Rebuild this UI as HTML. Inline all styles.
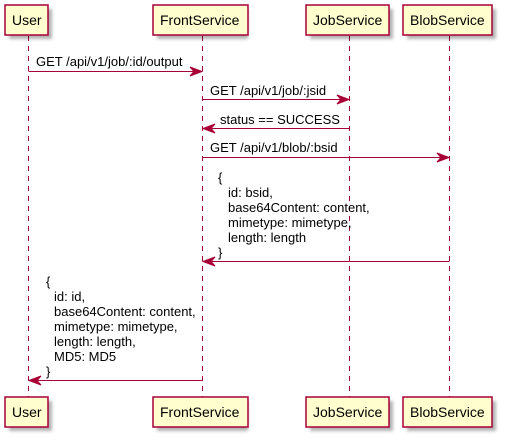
<!DOCTYPE html>
<html><head><meta charset="utf-8"><style>
html,body{margin:0;padding:0;background:#fff;}
svg{display:block;}
text{font-family:"Liberation Sans",sans-serif;fill:#000;}
</style></head><body>
<svg width="505" height="440" viewBox="0 0 505 440" xmlns="http://www.w3.org/2000/svg">
<defs><filter id="sh" x="-20%" y="-20%" width="150%" height="160%"><feGaussianBlur stdDeviation="1.5"/></filter></defs>
<g stroke="#A80036" stroke-width="1" stroke-dasharray="5,5">
<line x1="28.5" y1="36" x2="28.5" y2="397"/>
<line x1="202.5" y1="36" x2="202.5" y2="397"/>
<line x1="349.5" y1="36" x2="349.5" y2="397"/>
<line x1="449.5" y1="36" x2="449.5" y2="397"/>
</g>
<g fill="#000" opacity="0.3" filter="url(#sh)">
<rect x="9" y="9" width="43" height="30"/><rect x="157" y="9" width="91" height="30"/><rect x="310" y="9" width="83" height="30"/><rect x="407" y="9" width="89" height="30"/>
<rect x="9" y="401" width="43" height="30"/><rect x="157" y="401" width="91" height="30"/><rect x="310" y="401" width="83" height="30"/><rect x="407" y="401" width="89" height="30"/>
</g>
<g fill="#FEFECE" stroke="#A80036" stroke-width="1.5">
<rect x="5" y="5" width="43" height="30"/><rect x="153" y="5" width="95" height="30"/><rect x="306" y="5" width="83" height="30"/><rect x="403" y="5" width="89" height="30"/>
<rect x="5" y="397" width="43" height="30"/><rect x="153" y="397" width="95" height="30"/><rect x="306" y="397" width="83" height="30"/><rect x="403" y="397" width="89" height="30"/>
</g>
<g font-size="14">
<text x="12" y="25">User</text><text x="160" y="25">FrontService</text><text x="313" y="25">JobService</text><text x="410" y="25">BlobService</text>
<text x="12" y="417">User</text><text x="160" y="417">FrontService</text><text x="313" y="417">JobService</text><text x="410" y="417">BlobService</text>
</g>
<g stroke="#A80036" stroke-width="1" fill="#A80036">
<line x1="28.5" y1="71.5" x2="200" y2="71.5"/><polygon points="202,71.5 190,67 194,71.5 190,76"/>
<line x1="202.5" y1="99.5" x2="347" y2="99.5"/><polygon points="349,99.5 337,95 341,99.5 337,104"/>
<line x1="205" y1="128.5" x2="349.5" y2="128.5"/><polygon points="203,128.5 215,124 211,128.5 215,133"/>
<line x1="202.5" y1="157.5" x2="447" y2="157.5"/><polygon points="449,157.5 437,153 441,157.5 437,162"/>
<line x1="205" y1="261.5" x2="449.5" y2="261.5"/><polygon points="203,261.5 215,257 211,261.5 215,266"/>
<line x1="31" y1="380.5" x2="202.5" y2="380.5"/><polygon points="29,380.5 41,376 37,380.5 41,385"/>
</g>
<g font-size="13">
<text x="36" y="66">GET /api/v1/job/:id/output</text>
<text x="210" y="95">GET /api/v1/job/:jsid</text>
<text x="220" y="124">status == SUCCESS</text>
<text x="210" y="152">GET /api/v1/blob/:bsid</text>
<text x="218" y="182">{</text>
<text x="228" y="197">id: bsid,</text>
<text x="228" y="212">base64Content: content,</text>
<text x="228" y="227">mimetype: mimetype,</text>
<text x="228" y="242">length: length</text>
<text x="218" y="257">}</text>
<text x="46" y="286">{</text>
<text x="54" y="301">id: id,</text>
<text x="54" y="316">base64Content: content,</text>
<text x="54" y="331">mimetype: mimetype,</text>
<text x="54" y="346">length: length,</text>
<text x="54" y="361">MD5: MD5</text>
<text x="46" y="376">}</text>
</g>
</svg>
</body></html>
